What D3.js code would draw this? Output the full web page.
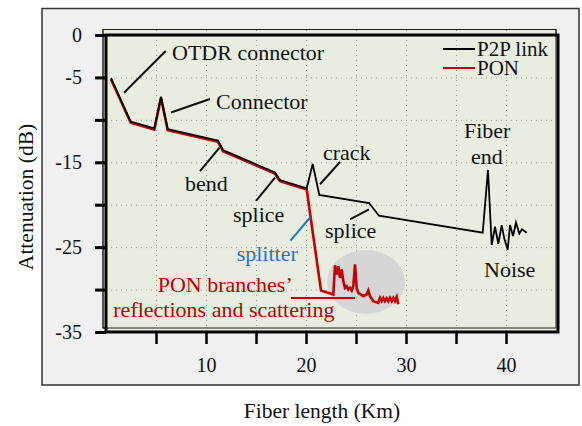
<!DOCTYPE html>
<html>
<head>
<meta charset="utf-8">
<script src="https://cdn.jsdelivr.net/npm/d3@7"></script>
<style>
  html, body { margin: 0; padding: 0; background: #fff; }
</style>
</head>
<body>
<svg id="chart" width="582" height="426"></svg>
<script>
(function(d3) {
    'use strict';

    var SERIF = 'Liberation Serif';

    // shared trace up to the splitter (both links)
    var trunkKm = [0.5, 2.47, 4.83, 5.5, 6.17, 11.2, 11.7, 16.9, 17.4, 20.07];
    var trunkDb = [-5.07, -10.2, -11.0, -7.27, -11.08, -12.45, -13.55, -16.2, -17.09, -18.07];

    // P2P link after the splitter position
    var p2pKm = [20.67, 21.33, 26.3, 27.3, 37.67, 38.2, 38.57, 38.9, 39.23, 39.57, 39.83, 40.17,
                 40.4, 40.7, 41.0, 41.33, 41.6, 42.07];
    var p2pDb = [-15.2, -18.85, -19.8, -21.3, -23.3, -15.9, -24.75, -22.6, -24.6, -22.4, -24.0, -25.3,
                 -22.4, -23.7, -22.1, -23.4, -22.9, -23.3];

    // PON after the splitter
    var ponKm = [21.5, 22.73, 22.9, 23.07, 23.23, 23.4, 23.57, 23.73, 23.9, 24.07, 24.23, 24.4, 24.57,
                 24.73, 24.9, 25.07, 25.23, 25.73, 26.07, 26.23, 26.4, 26.73, 27.23, 27.4, 27.57, 27.73,
                 27.9, 28.07, 28.23, 28.4, 28.57, 28.73, 28.9, 29.07, 29.23];
    var ponDb = [-29.97, -30.44, -26.99, -28.08, -27.1, -28.48, -27.49, -28.87, -29.66, -29.46, -29.85,
                 -29.66, -29.97, -29.46, -26.9, -29.66, -30.25, -30.64, -30.44, -29.97, -30.64, -31.23,
                 -31.43, -30.84, -31.23, -30.84, -31.23, -30.9, -31.23, -30.84, -31.23, -30.84, -31.23,
                 -30.72, -31.6];

    var xTicks = [5, 10, 15, 20, 25, 30, 35, 40];
    var xTickLabels = ['', '10', '', '20', '', '30', '', '40'];
    var yTicks = [0, -5, -10, -15, -20, -25, -30, -35];
    var yTickLabels = ['0', '-5', '', '-15', '', '-25', '', '-35'];

    var annotations = [
        {text: 'OTDR connector', km: 6.6, db: -2.95, color: '#111'},
        {text: 'Connector', km: 11.0, db: -8.72, color: '#111'},
        {text: 'bend', km: 7.9, db: -18.38, color: '#111'},
        {text: 'splice', km: 12.7, db: -22.04, color: '#111'},
        {text: 'crack', km: 21.7, db: -14.73, color: '#111'},
        {text: 'Fiber', km: 35.8, db: -12.1, color: '#111'},
        {text: 'end', km: 36.5, db: -15.2, color: '#111'},
        {text: 'splice', km: 21.9, db: -23.92, color: '#111'},
        {text: 'splitter', km: 13.07, db: -26.63, color: '#1f78c4'},
        {text: 'Noise', km: 37.8, db: -28.48, color: '#111'},
        {text: 'PON branches\u2019', km: 5.17, db: -30.25, color: '#c00000'},
        {text: 'reflections and scattering', km: 0.73, db: -33.27, color: '#c00000'}
    ];

    var pointers = [
        {from: [1.8, -6.8], to: [5.97, -1.89], color: '#111'},
        {from: [6.5, -9.13], to: [10.4, -7.54], color: '#111'},
        {from: [9.4, -16.03], to: [11.35, -13.26], color: '#111'},
        {from: [15.0, -19.56], to: [16.9, -16.82], color: '#111'},
        {from: [21.4, -17.59], to: [23.4, -14.97], color: '#111'},
        {from: [24.4, -21.74], to: [26.3, -20.56], color: '#111'},
        {from: [18.45, -24.22], to: [20.45, -21.45], color: '#1f78c4'},
        {from: [18.5, -30.99], to: [24.9, -30.99], color: '#c00000'}
    ];

    var svg = d3.select('#chart');

    var x = d3.scaleLinear().domain([0, 45]).range([106, 556]);
    var y = d3.scaleLinear().domain([0, -35]).range([35, 332]);

    // outer figure frame
    svg.append('rect')
        .attr('x', 42).attr('y', 8.5).attr('width', 537).attr('height', 376.5)
        .attr('fill', '#f0f0f0').attr('stroke', '#333').attr('stroke-width', 1.5);

    // back (thin) frame and front (thick) frame of the plot area
    svg.append('rect')
        .attr('x', 103).attr('y', 29.5).attr('width', 453).attr('height', 298.5)
        .attr('fill', '#e9eddf').attr('stroke', '#222').attr('stroke-width', 1);

    svg.append('rect')
        .attr('x', x(0)).attr('y', y(0)).attr('width', x(45) - x(0) + 2).attr('height', y(-35) - y(0))
        .attr('fill', '#e9eddf');

    // dotted grid
    var grid = svg.append('g').attr('stroke', '#9a9a9a').attr('stroke-width', 1)
        .attr('stroke-dasharray', '1,4');
    grid.selectAll('line.vx').data(xTicks).enter().append('line')
        .attr('x1', function(d) { return x(d) + 0.5; })
        .attr('x2', function(d) { return x(d) + 0.5; })
        .attr('y1', 30).attr('y2', y(-35));
    grid.selectAll('line.hy').data(yTicks.slice(1, -1)).enter().append('line')
        .attr('y1', function(d) { return y(d) + 0.5; })
        .attr('y2', function(d) { return y(d) + 0.5; })
        .attr('x1', x(0)).attr('x2', x(45));

    // thin frame lines drawn over the fill
    svg.append('rect')
        .attr('x', 103).attr('y', 29.5).attr('width', 453).attr('height', 298.5)
        .attr('fill', 'none').attr('stroke', '#222').attr('stroke-width', 1);

    // thick frame
    svg.append('rect')
        .attr('x', x(0)).attr('y', y(0)).attr('width', x(45) - x(0) + 2).attr('height', y(-35) - y(0))
        .attr('fill', 'none').attr('stroke', '#000').attr('stroke-width', 3);

    // axes
    var xAxis = d3.axisBottom(x).tickValues(xTicks)
        .tickFormat(function(d, i) { return xTickLabels[i]; })
        .tickSize(12).tickSizeOuter(0).tickPadding(14);
    var gx = svg.append('g').attr('transform', 'translate(0,' + y(-35) + ')').call(xAxis);
    gx.attr('font-family', SERIF).attr('font-size', 20);
    gx.select('.domain').remove();
    gx.selectAll('.tick line').attr('stroke', '#000').attr('stroke-width', 2.5);
    gx.selectAll('.tick text').attr('fill', '#111');

    var yAxis = d3.axisLeft(y).tickValues(yTicks)
        .tickFormat(function(d, i) { return yTickLabels[i]; })
        .tickSize(11).tickSizeOuter(0).tickPadding(13);
    var gy = svg.append('g').attr('transform', 'translate(' + x(0) + ',0)').call(yAxis);
    gy.attr('font-family', SERIF).attr('font-size', 20);
    gy.select('.domain').remove();
    gy.selectAll('.tick line').attr('stroke', '#000').attr('stroke-width', 3);
    gy.selectAll('.tick text').attr('fill', '#111');

    // axis titles
    svg.append('text')
        .attr('x', 322).attr('y', 418)
        .attr('text-anchor', 'middle').attr('font-size', 21.5).attr('fill', '#111')
        .attr('font-family', SERIF)
        .text('Fiber length (Km)');
    svg.append('text')
        .attr('transform', 'translate(33,197) rotate(-90)')
        .attr('text-anchor', 'middle').attr('font-size', 21.5).attr('fill', '#111')
        .attr('font-family', SERIF)
        .text('Attenuation (dB)');

    // grey highlight behind PON branch reflections
    svg.append('ellipse')
        .attr('cx', x(26.0)).attr('cy', y(-29.1))
        .attr('rx', x(3.9) - x(0)).attr('ry', y(-3.77) - y(0))
        .attr('fill', '#d6d6d6');

    var line = d3.line()
        .x(function(d) { return x(d[0]); })
        .y(function(d) { return y(d[1]); });

    var trunk = trunkKm.map(function(k, i) { return [k, trunkDb[i]]; });
    var p2p = trunk.concat(p2pKm.map(function(k, i) { return [k, p2pDb[i]]; }));
    var pon = trunk.concat(ponKm.map(function(k, i) { return [k, ponDb[i]]; }));

    svg.append('path')
        .datum(pon)
        .attr('d', line)
        .attr('transform', 'translate(0,1.2)')
        .attr('fill', 'none').attr('stroke', '#c40000').attr('stroke-width', 2.6)
        .attr('stroke-linejoin', 'miter');

    svg.append('path')
        .datum(p2p)
        .attr('d', line)
        .attr('fill', 'none').attr('stroke', '#000').attr('stroke-width', 1.8)
        .attr('stroke-linejoin', 'miter');

    // annotation pointers
    svg.append('g').selectAll('line').data(pointers).enter().append('line')
        .attr('x1', function(d) { return x(d.from[0]); })
        .attr('y1', function(d) { return y(d.from[1]); })
        .attr('x2', function(d) { return x(d.to[0]); })
        .attr('y2', function(d) { return y(d.to[1]); })
        .attr('stroke', function(d) { return d.color; })
        .attr('stroke-width', 2);

    // annotation labels
    svg.append('g').attr('font-family', SERIF).attr('font-size', 22)
        .selectAll('text').data(annotations).enter().append('text')
        .attr('x', function(d) { return x(d.km); })
        .attr('y', function(d) { return y(d.db); })
        .attr('fill', function(d) { return d.color; })
        .text(function(d) { return d.text; });

    // legend
    var legend = svg.append('g').attr('font-family', SERIF).attr('font-size', 21);
    var legendItems = [
        {name: 'P2P link', color: '#000', yLine: 49, yText: 56},
        {name: 'PON', color: '#c40000', yLine: 68, yText: 75}
    ];
    legend.selectAll('line').data(legendItems).enter().append('line')
        .attr('x1', 443).attr('x2', 475)
        .attr('y1', function(d) { return d.yLine; })
        .attr('y2', function(d) { return d.yLine; })
        .attr('stroke', function(d) { return d.color; })
        .attr('stroke-width', 2);
    legend.selectAll('text').data(legendItems).enter().append('text')
        .attr('x', 477).attr('y', function(d) { return d.yText; })
        .attr('fill', '#111')
        .text(function(d) { return d.name; });

}(d3));
</script>
</body>
</html>
